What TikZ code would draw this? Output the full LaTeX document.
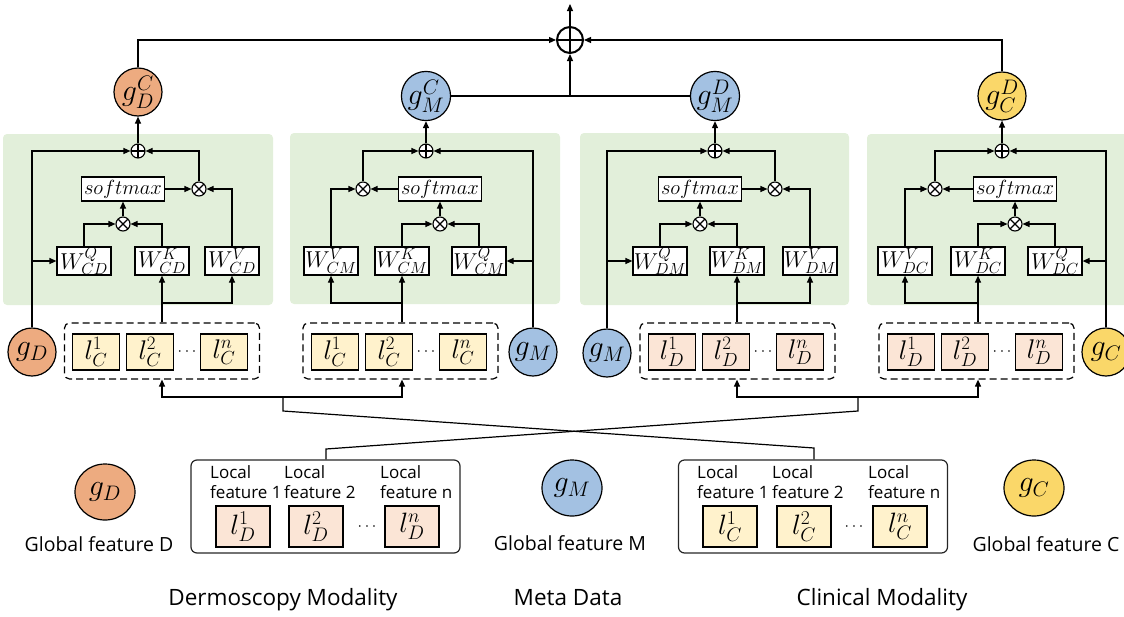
\RequirePackage{fix-cm}
\documentclass[tikz,border=0pt]{standalone}
\usepackage[no-math]{fontspec}
\newfontfamily\lgfont{Open Sans}
\usetikzlibrary{arrows.meta,shapes.geometric}
\definecolor{panelgreen}{RGB}{226,239,218}
\definecolor{corange}{RGB}{237,171,128}
\definecolor{cblue}{RGB}{163,193,226}
\definecolor{cyellow}{RGB}{250,215,105}
\definecolor{lyellow}{RGB}{255,242,204}
\definecolor{lorange}{RGB}{251,229,214}
\begin{document}
\begin{tikzpicture}[x=1pt,y=-1pt,
  every node/.style={inner sep=0pt},
  ln/.style={line width=1.2pt, black},
  arr/.style={ln, -{Triangle[length=7pt,width=6pt]}},
  wbox/.style={draw, line width=1.2pt, fill=white, minimum width=54pt, minimum height=28pt, font=\fontsize{23}{26}\selectfont},
  smbox/.style={draw, line width=1.2pt, fill=white, minimum width=83pt, minimum height=24pt, font=\fontsize{20.5}{23}\selectfont},
  opl/.style={circle, draw, line width=1.1pt, fill=white, minimum size=14pt,
    path picture={\draw[line width=1.1pt] (path picture bounding box.north) -- (path picture bounding box.south) (path picture bounding box.west) -- (path picture bounding box.east);}},
  otm/.style={circle, draw, line width=1.1pt, fill=white, minimum size=14pt,
    path picture={\draw[line width=1.1pt] (path picture bounding box.north west) -- (path picture bounding box.south east) (path picture bounding box.north east) -- (path picture bounding box.south west);}},
  gc/.style={circle, draw, line width=1.2pt, minimum size=48pt, font=\fontsize{30}{34}\selectfont},
  gleg/.style={ellipse, draw, line width=1.2pt, minimum width=60pt, minimum height=56pt, font=\fontsize{30}{34}\selectfont},
  lbox/.style={draw, line width=1.2pt, minimum width=47pt, minimum height=36pt, font=\fontsize{27}{30}\selectfont},
  lbig/.style={draw, line width=1.2pt, minimum width=54pt, minimum height=41pt, font=\fontsize{28}{31}\selectfont},
  dotsn/.style={font=\fontsize{16}{18}\selectfont},
  dashbox/.style={draw, line width=1.2pt, dash pattern=on 7pt off 4pt, rounded corners=5pt, minimum width=195pt, minimum height=56pt},
  legbox/.style={draw=black!85, line width=1.2pt, rounded corners=6pt, minimum width=269pt, minimum height=93pt},
  panel/.style={fill=panelgreen, rounded corners=4pt},
  loc/.style={anchor=north west, align=left, font=\lgfont\fontsize{17}{20}\selectfont},
  gtext/.style={anchor=base, font=\lgfont\fontsize{19.5}{22}\selectfont},
  mtext/.style={anchor=base, font=\lgfont\fontsize{22.5}{26}\selectfont},
]
\useasboundingbox (0,0) rectangle (1124,616);
% panels
\fill[panel] (3,134) rectangle (273,305);
\fill[panel] (290,133) rectangle (560,304);
\fill[panel] (580,133) rectangle (849,305);
\fill[panel] (867,134) rectangle (1140,305);

% ---------- panel 1 ----------
\node[opl] (op1) at (138,151) {};
\node[smbox] (sm1) at (123,189) {$softmax$};
\node[otm] (ob1) at (199,189) {};
\node[otm] (oa1) at (123,224) {};
\node[wbox] (wq1) at (84,261) {$W^{Q}_{CD}$};
\node[wbox] (wk1) at (162,261) {$W^{K}_{CD}$};
\node[wbox] (wv1) at (232,261) {$W^{V}_{CD}$};
\node[gc, fill=corange] (gd1) at (32,352) {$g_D$};
\node[dashbox] (db1) at (162,351) {};
\node[lbox, fill=lyellow] (l11) at (96,352) {$l_C^1$};
\node[lbox, fill=lyellow] (l12) at (150,352) {$l_C^2$};
\node[dotsn] (d1) at (187,352) {$\cdots$};
\node[lbox, fill=lyellow] (l1n) at (224,352) {$l_C^n$};
\node[gc, fill=corange] (gdc) at (138,92) {$g_D^C$};
\draw[arr] (gd1.north) |- (op1.west);
\draw[arr] (gd1.north |- wq1.west) -- (wq1.west);
\draw[arr] (wq1.north) |- (oa1.west);
\draw[arr] (wk1.north) |- (oa1.east);
\draw[arr] (oa1.north) -- (sm1.south);
\draw[arr] (sm1.east) -- (ob1.west);
\draw[arr] (wv1.north) |- (ob1.east);
\draw[arr] (ob1.north) |- (op1.east);
\draw[arr] (op1.north) -- (gdc.south);
\draw[arr] (db1.north -| wk1) -- (wk1.south);
\coordinate (j1) at (162,303);
\draw[arr] (j1) -| (wv1.south);

% ---------- panel 2 ----------
\node[opl] (op2) at (426,151) {};
\node[otm] (ob2) at (363,189) {};
\node[smbox] (sm2) at (440,189) {$softmax$};
\node[otm] (oa2) at (440,224) {};
\node[wbox] (wv2) at (331,261) {$W^{V}_{CM}$};
\node[wbox] (wk2) at (402,261) {$W^{K}_{CM}$};
\node[wbox] (wq2) at (479,261) {$W^{Q}_{CM}$};
\node[gc, fill=cblue] (gm2) at (533,352) {$g_M$};
\node[dashbox] (db2) at (400.5,351) {};
\node[lbox, fill=lyellow] (l21) at (335,352) {$l_C^1$};
\node[lbox, fill=lyellow] (l22) at (389,352) {$l_C^2$};
\node[dotsn] (d2) at (426,352) {$\cdots$};
\node[lbox, fill=lyellow] (l2n) at (463,352) {$l_C^n$};
\node[gc, fill=cblue] (gmc) at (426,96) {$g_M^C$};
\draw[arr] (gm2.north) |- (op2.east);
\draw[arr] (gm2.north |- wq2.east) -- (wq2.east);
\draw[arr] (wq2.north) |- (oa2.east);
\draw[arr] (wk2.north) |- (oa2.west);
\draw[arr] (oa2.north) -- (sm2.south);
\draw[arr] (sm2.west) -- (ob2.east);
\draw[arr] (wv2.north) |- (ob2.west);
\draw[arr] (ob2.north) |- (op2.west);
\draw[arr] (op2.north) -- (gmc.south);
\draw[arr] (db2.north -| wk2) -- (wk2.south);
\coordinate (j2) at (402,303);
\draw[arr] (j2) -| (wv2.south);

% ---------- panel 3 ----------
\node[opl] (op3) at (715,151) {};
\node[smbox] (sm3) at (700,189) {$softmax$};
\node[otm] (ob3) at (775,189) {};
\node[otm] (oa3) at (700,224) {};
\node[wbox] (wq3) at (660,261) {$W^{Q}_{DM}$};
\node[wbox] (wk3) at (737,261) {$W^{K}_{DM}$};
\node[wbox] (wv3) at (810,261) {$W^{V}_{DM}$};
\node[gc, fill=cblue] (gm3) at (607,353) {$g_M$};
\node[dashbox] (db3) at (737.5,351) {};
\node[lbox, fill=lorange] (l31) at (672,352) {$l_D^1$};
\node[lbox, fill=lorange] (l32) at (726,352) {$l_D^2$};
\node[dotsn] (d3) at (763,352) {$\cdots$};
\node[lbox, fill=lorange] (l3n) at (800,352) {$l_D^n$};
\node[gc, fill=cblue] (gmd) at (715,96) {$g_M^D$};
\draw[arr] (gm3.north) |- (op3.west);
\draw[arr] (gm3.north |- wq3.west) -- (wq3.west);
\draw[arr] (wq3.north) |- (oa3.west);
\draw[arr] (wk3.north) |- (oa3.east);
\draw[arr] (oa3.north) -- (sm3.south);
\draw[arr] (sm3.east) -- (ob3.west);
\draw[arr] (wv3.north) |- (ob3.east);
\draw[arr] (ob3.north) |- (op3.east);
\draw[arr] (op3.north) -- (gmd.south);
\draw[arr] (db3.north -| wk3) -- (wk3.south);
\coordinate (j3) at (737,303);
\draw[arr] (j3) -| (wv3.south);

% ---------- panel 4 ----------
\node[opl] (op4) at (1002,151) {};
\node[otm] (ob4) at (935,189) {};
\node[smbox] (sm4) at (1015,189) {$softmax$};
\node[otm] (oa4) at (1015,224) {};
\node[wbox] (wv4) at (905,261) {$W^{V}_{DC}$};
\node[wbox] (wk4) at (978,261) {$W^{K}_{DC}$};
\node[wbox] (wq4) at (1055,261) {$W^{Q}_{DC}$};
\node[gc, fill=cyellow] (gc4) at (1106,352) {$g_C$};
\node[dashbox] (db4) at (976.5,351) {};
\node[lbox, fill=lorange] (l41) at (911,352) {$l_D^1$};
\node[lbox, fill=lorange] (l42) at (965,352) {$l_D^2$};
\node[dotsn] (d4) at (1002,352) {$\cdots$};
\node[lbox, fill=lorange] (l4n) at (1039,352) {$l_D^n$};
\node[gc, fill=cyellow] (gcd) at (1002,96) {$g_C^D$};
\draw[arr] (gc4.north) |- (op4.east);
\draw[arr] (gc4.north |- wq4.east) -- (wq4.east);
\draw[arr] (wq4.north) |- (oa4.east);
\draw[arr] (wk4.north) |- (oa4.west);
\draw[arr] (oa4.north) -- (sm4.south);
\draw[arr] (sm4.west) -- (ob4.east);
\draw[arr] (wv4.north) |- (ob4.west);
\draw[arr] (ob4.north) |- (op4.west);
\draw[arr] (op4.north) -- (gcd.south);
\draw[arr] (db4.north -| wk4) -- (wk4.south);
\coordinate (j4) at (978,303);
\draw[arr] (j4) -| (wv4.south);

% ---------- top fusion ----------
\node[circle, draw, line width=2pt, fill=white, minimum size=26pt,
  path picture={\draw[line width=2pt] (path picture bounding box.north) -- (path picture bounding box.south) (path picture bounding box.west) -- (path picture bounding box.east);}] (top) at (570,40) {};
\coordinate (outp) at (570,4);
\draw[arr] (top.north) -- (outp);
\draw[arr] (gdc.north) |- (top.west);
\draw[arr] (gcd.north) |- (top.east);
\draw[ln] (gmc.east) -- (gmd.west);
\draw[arr] (top.south |- gmc.east) -- (top.south);

% ---------- bottom legend ----------
\node[legbox] (lgD) at (325.5,506.5) {};
\node[legbox] (lgC) at (813,506.5) {};
\node[lbig, fill=lorange] (ld1) at (243,526.5) {$l_D^1$};
\node[lbig, fill=lorange] (ld2) at (316,526.5) {$l_D^2$};
\node[dotsn] (ldd) at (367,527) {$\cdots$};
\node[lbig, fill=lorange] (ldn) at (412,526.5) {$l_D^n$};
\node[lbig, fill=lyellow] (lc1) at (730,526.5) {$l_C^1$};
\node[lbig, fill=lyellow] (lc2) at (804,526.5) {$l_C^2$};
\node[dotsn] (lcd) at (854,527) {$\cdots$};
\node[lbig, fill=lyellow] (lcn) at (900,526.5) {$l_C^n$};
\node[loc] (tD1) at (210,465) {Local\\feature 1};
\node[loc] (tD2) at (284,465) {Local\\feature 2};
\node[loc] (tDn) at (380,465) {Local\\feature n};
\node[loc] (tC1) at (697,465) {Local\\feature 1};
\node[loc] (tC2) at (772,465) {Local\\feature 2};
\node[loc] (tCn) at (868,465) {Local\\feature n};

\node[gleg, fill=corange] (gDl) at (105,492) {$g_D$};
\node[gleg, fill=cblue] (gMl) at (572,488) {$g_M$};
\node[gleg, fill=cyellow] (gCl) at (1034,488) {$g_C$};
\node[gtext] (tgD) at (99,551) {Global feature D};
\node[gtext] (tgM) at (570,550) {Global feature M};
\node[gtext] (tgC) at (1046,551) {Global feature C};
\node[mtext] (mD) at (283,605) {Dermoscopy Modality};
\node[mtext] (mM) at (568,605) {Meta Data};
\node[mtext] (mC) at (882,605) {Clinical Modality};

% cross connections
\coordinate (jL) at (283,397);
\coordinate (jL2) at (283,411);
\coordinate (jR) at (858,397);
\coordinate (jR2) at (858,411);
\coordinate (cjT) at (814,448);
\coordinate (djT) at (326,449);
\draw[arr] (jL) -| (db1.south -| wk1);
\draw[arr] (jL) -| (db2.south -| wk2);
\draw[arr] (jR) -| (db3.south -| wk3);
\draw[arr] (jR) -| (db4.south -| wk4);
\draw[ln] (jL) -- (jL2) -- (cjT) -- (cjT |- lgC.north);
\draw[ln] (jR) -- (jR2) -- (djT) -- (djT |- lgD.north);
\end{tikzpicture}
\end{document}
